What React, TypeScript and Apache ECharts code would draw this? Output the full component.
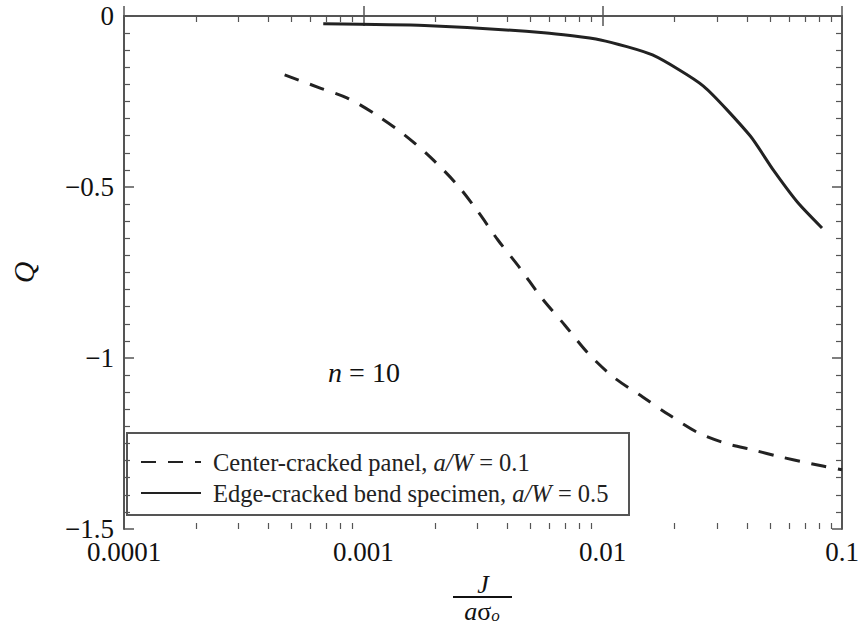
import React, { useEffect, useRef } from "react";
import * as echarts from "echarts";

const FONT = "Liberation Serif, DejaVu Serif, serif";

const seriesNames = [
  "Center-cracked panel, a/W = 0.1",
  "Edge-cracked bend specimen, a/W = 0.5",
];

const centerJ = [
  0.000469, 0.000656, 0.000858, 0.00112, 0.00147, 0.0019, 0.00247, 0.00302,
  0.00365, 0.00451, 0.00557, 0.00695, 0.00866, 0.0111, 0.0147, 0.019, 0.0251,
  0.0325, 0.0426, 0.0552, 0.0722, 0.1,
];
const centerQ = [
  -0.172, -0.21, -0.24, -0.287, -0.345, -0.412, -0.494, -0.573, -0.655, -0.737,
  -0.825, -0.904, -0.985, -1.056, -1.114, -1.167, -1.219, -1.249, -1.269,
  -1.289, -1.307, -1.327,
];

const edgeJ = [
  0.00068, 0.0018, 0.00568, 0.0098, 0.01615, 0.02636, 0.0414, 0.0516, 0.0656,
  0.0825,
];
const edgeQ = [
  -0.023, -0.028, -0.049, -0.07, -0.114, -0.205, -0.351, -0.45, -0.547, -0.62,
];

const xMajorTicks = [0.0001, 0.001, 0.01, 0.1];
const yTicks = [0, -0.5, -1, -1.5];

const minorLogTicks: number[] = [];
for (let d = -4; d <= -2; d++) {
  for (let k = 2; k <= 9; k++) minorLogTicks.push(Math.log10(k) + d);
}

const AXIS_COLOR = "#555";
const LINE_COLOR = "#222";

export default function App() {
  const ref = useRef<HTMLDivElement>(null);
  useEffect(() => {
    if (!ref.current) return;
    const chart = echarts.init(ref.current, null, { renderer: "svg" });
    const axisLine = { show: true, lineStyle: { color: AXIS_COLOR, width: 2 } };
    const majorX = (position: string, labels: boolean) => ({
      type: "log",
      logBase: 10,
      min: xMajorTicks[0],
      max: xMajorTicks[xMajorTicks.length - 1],
      position,
      axisLine,
      axisTick: { show: true, inside: true, length: 10, lineStyle: { color: AXIS_COLOR, width: 1.5 } },
      axisLabel: {
        show: labels,
        margin: 9,
        fontFamily: FONT,
        fontSize: 27,
        color: "#111",
        formatter: (v: number) => Number(v.toPrecision(3)).toString(),
      },
      splitLine: { show: false },
    });
    const minorX = (position: string) => ({
      type: "value",
      min: -4,
      max: -1,
      position,
      axisLine: { show: false },
      axisTick: {
        show: true,
        inside: true,
        length: 6,
        customValues: minorLogTicks,
        lineStyle: { color: AXIS_COLOR, width: 1.2 },
      },
      axisLabel: { show: false },
      splitLine: { show: false },
    });
    const yAx = (position: string, labels: boolean) => ({
      type: "value",
      min: yTicks[yTicks.length - 1],
      max: yTicks[0],
      interval: 0.5,
      position,
      axisLine,
      axisTick: { show: true, inside: true, length: 10, lineStyle: { color: AXIS_COLOR, width: 1.5 } },
      minorTick: { show: true, splitNumber: 10, length: 6, lineStyle: { color: AXIS_COLOR, width: 1.2 } },
      axisLabel: {
        show: labels,
        margin: 10,
        fontFamily: FONT,
        fontSize: 27,
        color: "#111",
        formatter: (v: number) => (v === 0 ? "0" : "\u2212" + Math.abs(v)),
      },
      splitLine: { show: false },
      minorSplitLine: { show: false },
      ...(labels
        ? {
            name: "Q",
            nameLocation: "middle",
            nameGap: 86,
            nameRotate: 90,
            nameTextStyle: { fontFamily: FONT, fontSize: 30, fontStyle: "italic", color: "#111" },
          }
        : {}),
    });

    const italicRich = {
      i: { fontStyle: "italic", fontFamily: FONT, fontSize: 24.5, color: "#222", lineHeight: 26 },
    };

    chart.setOption({
      animation: false,
      backgroundColor: "#fff",
      grid: { left: 122, right: 24, top: 16, bottom: 97, containLabel: false },
      xAxis: [majorX("bottom", true), majorX("top", false), minorX("bottom"), minorX("top")],
      yAxis: [yAx("left", true), yAx("right", false)],
      legend: {
        orient: "vertical",
        left: 127,
        top: 433,
        padding: [16, 10, 10, 13],
        itemGap: 5,
        itemWidth: 60,
        itemHeight: 14,
        selectedMode: false,
        itemStyle: { opacity: 0 },
        data: seriesNames,
        formatter: (name: string) => name.replace("a/W", "{i|a/W}"),
        textStyle: {
          fontFamily: FONT,
          fontSize: 24.5,
          color: "#222",
          lineHeight: 26,
          padding: [0, 0, 0, 7],
          rich: italicRich,
        },
      },
      graphic: [
        {
          type: "rect",
          shape: { x: 127, y: 433, width: 502, height: 82 },
          style: { fill: "none", stroke: AXIS_COLOR, lineWidth: 2 },
          z: 10,
        },
        {
          type: "text",
          x: 364,
          y: 372,
          style: {
            text: "{i|n} = 10",
            fontFamily: FONT,
            fontSize: 28,
            fill: "#111",
            align: "center",
            verticalAlign: "middle",
            rich: { i: { fontStyle: "italic", fontFamily: FONT, fontSize: 28, fill: "#111" } },
          },
        },
        {
          type: "text",
          x: 483,
          y: 584,
          style: {
            text: "J",
            fontFamily: FONT,
            fontSize: 26,
            fontStyle: "italic",
            fill: "#111",
            align: "center",
            verticalAlign: "middle",
          },
        },
        {
          type: "line",
          shape: { x1: 453, y1: 597, x2: 512, y2: 597 },
          style: { stroke: "#111", lineWidth: 2 },
        },
        {
          type: "text",
          x: 482,
          y: 611,
          style: {
            text: "{i|a}σ{s|o}",
            fontFamily: FONT,
            fontSize: 26,
            fill: "#111",
            align: "center",
            verticalAlign: "middle",
            rich: {
              i: { fontStyle: "italic", fontFamily: FONT, fontSize: 26, fill: "#111" },
              s: { fontStyle: "italic", fontFamily: FONT, fontSize: 17, fill: "#111", padding: [9, 0, 0, 0] },
            },
          },
        },
      ],
      series: [
        {
          name: seriesNames[0],
          type: "line",
          xAxisIndex: 0,
          yAxisIndex: 0,
          showSymbol: false,
          symbol: "none",
          smooth: 0.3,
          lineStyle: { color: LINE_COLOR, width: 3, type: [15, 12] },
          itemStyle: { color: LINE_COLOR },
          data: centerJ.map((x, i) => [x, centerQ[i]]),
        },
        {
          name: seriesNames[1],
          type: "line",
          xAxisIndex: 0,
          yAxisIndex: 0,
          showSymbol: false,
          symbol: "none",
          smooth: 0.2,
          lineStyle: { color: LINE_COLOR, width: 3, type: "solid" },
          itemStyle: { color: LINE_COLOR },
          data: edgeJ.map((x, i) => [x, edgeQ[i]]),
        },
      ],
    });
    return () => chart.dispose();
  }, []);
  return (
    <div
      ref={ref}
      style={{ width: 866, height: 626, position: "fixed", left: 0, top: 0 }}
    />
  );
}
